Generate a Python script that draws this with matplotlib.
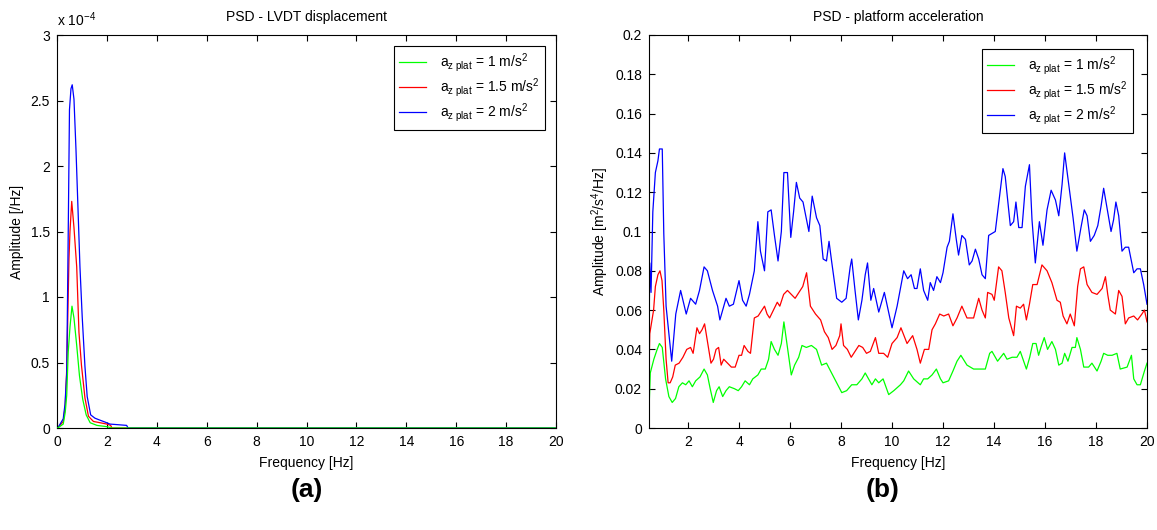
import numpy as np
import matplotlib
matplotlib.use('Agg')
import matplotlib.pyplot as plt
from matplotlib.ticker import FuncFormatter, MultipleLocator

plt.rcParams['font.family'] = ['Liberation Sans', 'DejaVu Sans']
plt.rcParams['mathtext.fontset'] = 'custom'
plt.rcParams['mathtext.rm'] = 'Liberation Sans'
plt.rcParams['mathtext.it'] = 'Liberation Sans:italic'
plt.rcParams['mathtext.default'] = 'regular'

# --- (a) PSD of LVDT displacement, values in units of 1e-4 /Hz ---
f_a_blue = [0.0, 0.03, 0.25, 0.32, 0.39, 0.45, 0.50, 0.56, 0.61, 0.68, 0.76, 0.83, 0.92,
            1.01, 1.12, 1.21, 1.35, 1.52, 1.72, 1.93, 2.12, 2.79, 2.85, 20.0]
v_a_blue = [0.0, 0.0, 0.07, 0.18, 0.42, 1.49, 2.43, 2.59, 2.62, 2.51, 2.13, 1.74, 1.23,
            0.85, 0.47, 0.24, 0.10, 0.075, 0.06, 0.045, 0.03, 0.02, 0.0, 0.0]
f_a_red = [0.0, 0.03, 0.25, 0.33, 0.39, 0.48, 0.52, 0.59, 0.68, 0.79, 0.88, 0.98,
           1.12, 1.26, 1.46, 2.0, 2.15, 2.2, 20.0]
v_a_red = [0.0, 0.0, 0.05, 0.17, 0.45, 1.29, 1.50, 1.73, 1.53, 1.23, 0.73, 0.48,
           0.23, 0.09, 0.05, 0.03, 0.02, 0.0, 0.0]
f_a_green = [0.0, 0.03, 0.25, 0.33, 0.39, 0.45, 0.52, 0.60, 0.68, 0.79, 0.90, 1.03,
             1.17, 1.33, 1.60, 2.0, 2.2, 20.0]
v_a_green = [0.0, 0.0, 0.03, 0.12, 0.25, 0.58, 0.77, 0.93, 0.84, 0.63, 0.40, 0.22,
             0.10, 0.04, 0.02, 0.01, 0.0, 0.0]

# --- (b) PSD of platform acceleration [m^2/s^4/Hz] ---
f_b_blue = [0.47, 0.50, 0.55, 0.62, 0.72, 0.82, 0.88, 0.99, 1.05, 1.14, 1.25, 1.36, 1.52, 1.71,
            1.93, 2.10, 2.30, 2.45, 2.63, 2.76, 2.96, 3.16, 3.25, 3.49, 3.62, 3.78, 4.00,
            4.14, 4.28, 4.41, 4.60, 4.74, 4.84, 5.00, 5.13, 5.26, 5.39, 5.53, 5.66, 5.76,
            5.90, 6.03, 6.14, 6.25, 6.38, 6.51, 6.74, 6.87, 7.04, 7.17, 7.30, 7.43, 7.53,
            7.63, 7.83, 8.03, 8.20, 8.36, 8.42, 8.55, 8.68, 8.82, 8.95, 9.04, 9.17, 9.28,
            9.48, 9.70, 10.00, 10.20, 10.46, 10.61, 10.75, 10.88, 10.98, 11.11, 11.24,
            11.40, 11.50, 11.63, 11.76, 11.90, 12.00, 12.16, 12.25, 12.39, 12.52, 12.61,
            12.74, 12.88, 13.03, 13.14, 13.27, 13.40, 13.53, 13.66, 13.79, 13.92, 14.05,
            14.18, 14.35, 14.44, 14.64, 14.77, 14.86, 14.97, 15.10, 15.23, 15.39, 15.49,
            15.62, 15.78, 15.92, 16.08, 16.24, 16.41, 16.54, 16.67, 16.77, 16.93, 17.10,
            17.25, 17.41, 17.54, 17.65, 17.78, 17.93, 18.07, 18.20, 18.30, 18.43, 18.59,
            18.69, 18.78, 18.89, 19.02, 19.15, 19.28, 19.48, 19.61, 19.74, 19.87, 20.0]
v_b_blue = [0.045, 0.084, 0.069, 0.110, 0.130, 0.136, 0.142, 0.142, 0.099, 0.062, 0.048,
            0.034, 0.058, 0.070, 0.058, 0.066, 0.063, 0.070, 0.082, 0.080, 0.070, 0.062,
            0.055, 0.066, 0.062, 0.063, 0.075, 0.065, 0.062, 0.068, 0.080, 0.105, 0.090,
            0.080, 0.110, 0.111, 0.098, 0.085, 0.100, 0.130, 0.130, 0.097, 0.110, 0.125,
            0.117, 0.115, 0.100, 0.118, 0.107, 0.103, 0.086, 0.085, 0.095, 0.085, 0.066,
            0.064, 0.066, 0.082, 0.086, 0.070, 0.055, 0.065, 0.078, 0.084, 0.065, 0.071,
            0.059, 0.069, 0.051, 0.062, 0.080, 0.076, 0.078, 0.071, 0.071, 0.081, 0.070,
            0.065, 0.074, 0.070, 0.077, 0.074, 0.079, 0.092, 0.095, 0.109, 0.096, 0.088,
            0.098, 0.096, 0.083, 0.085, 0.091, 0.086, 0.078, 0.076, 0.098, 0.099, 0.100,
            0.114, 0.132, 0.128, 0.103, 0.105, 0.115, 0.102, 0.102, 0.123, 0.134, 0.106,
            0.084, 0.105, 0.093, 0.111, 0.121, 0.116, 0.108, 0.124, 0.140, 0.124, 0.107,
            0.090, 0.102, 0.111, 0.108, 0.095, 0.098, 0.103, 0.113, 0.122, 0.112, 0.100,
            0.106, 0.115, 0.108, 0.090, 0.092, 0.092, 0.079, 0.081, 0.081, 0.073, 0.063]

f_b_red = [0.47, 0.50, 0.55, 0.65, 0.72, 0.82, 0.90, 0.98, 1.05, 1.14, 1.22, 1.30, 1.40, 1.50,
           1.65, 1.80, 1.95, 2.10, 2.20, 2.35, 2.45, 2.55, 2.65, 2.75, 2.90, 3.00, 3.10,
           3.20, 3.30, 3.40, 3.55, 3.70, 3.85, 4.00, 4.10, 4.20, 4.35, 4.45, 4.60, 4.75,
           4.90, 5.00, 5.10, 5.20, 5.35, 5.50, 5.60, 5.75, 5.90, 6.05, 6.20, 6.30, 6.50,
           6.65, 6.80, 7.00, 7.20, 7.35, 7.50, 7.65, 7.80, 7.95, 8.00, 8.10, 8.25, 8.40,
           8.55, 8.70, 8.85, 9.00, 9.15, 9.35, 9.48, 9.67, 9.83, 10.00, 10.20, 10.35,
           10.59, 10.81, 10.98, 11.11, 11.27, 11.44, 11.57, 11.70, 11.87, 12.03, 12.22,
           12.39, 12.55, 12.74, 12.94, 13.20, 13.40, 13.53, 13.66, 13.75, 13.92, 14.01,
           14.18, 14.31, 14.44, 14.58, 14.77, 14.88, 15.03, 15.16, 15.27, 15.39, 15.52,
           15.69, 15.88, 16.08, 16.27, 16.47, 16.60, 16.71, 16.86, 16.99, 17.15, 17.28,
           17.39, 17.52, 17.65, 17.84, 18.04, 18.24, 18.37, 18.46, 18.56, 18.76, 18.89,
           19.02, 19.15, 19.28, 19.48, 19.63, 19.80, 19.90, 20.0]
v_b_red = [0.028, 0.048, 0.052, 0.060, 0.072, 0.078, 0.080, 0.075, 0.060, 0.035, 0.023,
           0.023, 0.026, 0.032, 0.033, 0.036, 0.040, 0.041, 0.038, 0.051, 0.048, 0.050,
           0.053, 0.045, 0.033, 0.035, 0.040, 0.041, 0.032, 0.035, 0.033, 0.031, 0.031,
           0.037, 0.037, 0.042, 0.039, 0.038, 0.056, 0.057, 0.060, 0.062, 0.058, 0.056,
           0.060, 0.064, 0.062, 0.068, 0.070, 0.068, 0.066, 0.068, 0.072, 0.079, 0.062,
           0.058, 0.055, 0.049, 0.046, 0.040, 0.042, 0.047, 0.053, 0.042, 0.040, 0.036,
           0.039, 0.042, 0.041, 0.038, 0.039, 0.046, 0.038, 0.038, 0.036, 0.043, 0.046,
           0.051, 0.043, 0.047, 0.040, 0.033, 0.040, 0.040, 0.050, 0.053, 0.058, 0.057,
           0.058, 0.052, 0.056, 0.062, 0.056, 0.056, 0.066, 0.060, 0.056, 0.069, 0.068,
           0.065, 0.082, 0.080, 0.069, 0.056, 0.047, 0.062, 0.061, 0.063, 0.055, 0.063,
           0.073, 0.073, 0.083, 0.080, 0.074, 0.065, 0.064, 0.057, 0.053, 0.058, 0.052,
           0.072, 0.081, 0.082, 0.073, 0.069, 0.068, 0.071, 0.077, 0.068, 0.060, 0.058,
           0.070, 0.067, 0.053, 0.056, 0.057, 0.055, 0.058, 0.060, 0.054]

f_b_green = [0.47, 0.50, 0.52, 0.66, 0.79, 0.88, 0.99, 1.12, 1.25, 1.38, 1.51, 1.64, 1.78,
             1.91, 2.04, 2.17, 2.30, 2.47, 2.63, 2.76, 2.87, 2.99, 3.12, 3.22, 3.36, 3.49,
             3.62, 3.82, 3.97, 4.10, 4.24, 4.41, 4.54, 4.74, 4.87, 5.03, 5.16, 5.26, 5.39,
             5.53, 5.66, 5.76, 5.90, 6.05, 6.18, 6.34, 6.47, 6.64, 6.84, 7.04, 7.24, 7.43,
             7.63, 7.83, 8.03, 8.22, 8.42, 8.62, 8.82, 8.95, 9.08, 9.21, 9.35, 9.48, 9.65,
             9.87, 10.07, 10.33, 10.46, 10.65, 10.85, 11.11, 11.24, 11.40, 11.57, 11.74,
             11.90, 12.00, 12.22, 12.39, 12.55, 12.70, 12.94, 13.20, 13.46, 13.66, 13.83,
             13.92, 14.14, 14.38, 14.51, 14.71, 14.90, 15.03, 15.27, 15.40, 15.52, 15.65,
             15.75, 15.84, 15.97, 16.10, 16.27, 16.41, 16.54, 16.67, 16.77, 16.90, 17.06,
             17.19, 17.25, 17.39, 17.52, 17.71, 17.84, 18.04, 18.20, 18.30, 18.46, 18.63,
             18.82, 18.95, 19.22, 19.39, 19.48, 19.61, 19.74, 19.90, 20.0]
v_b_green = [0.009, 0.021, 0.028, 0.035, 0.040, 0.043, 0.041, 0.025, 0.016, 0.013, 0.015,
             0.021, 0.023, 0.022, 0.024, 0.021, 0.024, 0.026, 0.030, 0.027, 0.020, 0.013,
             0.019, 0.021, 0.016, 0.019, 0.021, 0.020, 0.019, 0.021, 0.024, 0.022, 0.025,
             0.027, 0.030, 0.030, 0.035, 0.044, 0.040, 0.037, 0.043, 0.054, 0.041, 0.027,
             0.032, 0.036, 0.042, 0.041, 0.042, 0.040, 0.032, 0.033, 0.028, 0.023, 0.018,
             0.019, 0.022, 0.022, 0.025, 0.028, 0.025, 0.022, 0.025, 0.023, 0.025, 0.017,
             0.019, 0.022, 0.024, 0.029, 0.025, 0.022, 0.025, 0.025, 0.027, 0.030, 0.025,
             0.023, 0.024, 0.029, 0.034, 0.037, 0.032, 0.030, 0.030, 0.030, 0.038, 0.039,
             0.034, 0.038, 0.035, 0.036, 0.036, 0.039, 0.030, 0.036, 0.043, 0.043, 0.037,
             0.041, 0.046, 0.040, 0.044, 0.040, 0.032, 0.033, 0.038, 0.034, 0.041, 0.041,
             0.046, 0.040, 0.031, 0.031, 0.033, 0.029, 0.034, 0.038, 0.037, 0.037, 0.038,
             0.030, 0.031, 0.037, 0.025, 0.022, 0.022, 0.029, 0.033]

labels = [r'a$_{z\ plat}$ = 1 m/s$^2$',
          r'a$_{z\ plat}$ = 1.5 m/s$^2$',
          r'a$_{z\ plat}$ = 2 m/s$^2$']
colors = ['#00ff00', '#ff0000', '#0000ff']

FS = 10

fig = plt.figure(figsize=(11.57, 5.30), dpi=100, facecolor='white')
ax_a = fig.add_axes([57 / 1157, 102 / 530, 499 / 1157, 393 / 530])
ax_b = fig.add_axes([649 / 1157, 102 / 530, 498 / 1157, 393 / 530])


def estilo(ax):
    ax.tick_params(direction='in', top=True, right=True, length=4, width=0.8,
                   labelsize=FS, pad=5, colors='black')
    for s in ax.spines.values():
        s.set_linewidth(0.8)
        s.set_color('black')
    ax.set_xlabel('Frequency [Hz]', fontsize=FS, labelpad=5)


def leyenda(ax, hands, anchor):
    lg = ax.legend(handles=hands, loc='upper right', fontsize=FS, frameon=True,
                   fancybox=False, edgecolor='black', framealpha=1, handlelength=1.9,
                   borderpad=0.4, labelspacing=0.15, handletextpad=1.0,
                   borderaxespad=0, bbox_to_anchor=anchor)
    lg.get_frame().set_linewidth(0.8)
    return lg


# panel (a)
series_a = [(f_a_green, v_a_green), (f_a_red, v_a_red), (f_a_blue, v_a_blue)]
hands = []
for (f, v), c, lab in zip(series_a, colors, labels):
    h, = ax_a.plot(f, v, color=c, lw=0.9, label=lab)
    hands.append(h)
# green drawn over the others along the zero line
hands[0].set_zorder(3)
ax_a.set_xlim(0, 20)
ax_a.set_ylim(0, 3)
ax_a.xaxis.set_major_locator(MultipleLocator(2))
ax_a.yaxis.set_major_locator(MultipleLocator(0.5))
ax_a.yaxis.set_major_formatter(FuncFormatter(lambda v, p: f'{v:g}'))
estilo(ax_a)
ax_a.set_ylabel('Amplitude [/Hz]', fontsize=FS, labelpad=5)
ax_a.set_title('PSD - LVDT displacement', fontsize=FS, pad=10)
ax_a.text(0.0, 1.015, r'x 10$^{-4}$', transform=ax_a.transAxes, fontsize=FS,
          ha='left', va='bottom')
leyenda(ax_a, hands, ((545 - 57) / 499, (428 - 46) / 393))

# panel (b)
series_b = [(f_b_green, v_b_green), (f_b_red, v_b_red), (f_b_blue, v_b_blue)]
hands_b = []
for (f, v), c, lab in zip(series_b, colors, labels):
    h, = ax_b.plot(f, v, color=c, lw=0.9, label=lab)
    hands_b.append(h)
ax_b.set_xlim(0.47, 20)
ax_b.set_ylim(0, 0.2)
ax_b.set_xticks(np.arange(2, 21, 2))
ax_b.yaxis.set_major_locator(MultipleLocator(0.02))
ax_b.yaxis.set_major_formatter(FuncFormatter(lambda v, p: f'{round(v, 2):g}'))
estilo(ax_b)
ax_b.set_ylabel(r'Amplitude [m$^2$/s$^4$/Hz]', fontsize=FS, labelpad=3)
ax_b.set_title('PSD - platform acceleration', fontsize=FS, pad=10)
leyenda(ax_b, hands_b, ((1133 - 649) / 498, (428 - 49) / 393))

fig.text(307 / 1157, 1 - 490 / 530, '(a)', fontsize=19, fontweight='bold',
         ha='center', va='center')
fig.text(883 / 1157, 1 - 490 / 530, '(b)', fontsize=19, fontweight='bold',
         ha='center', va='center')

fig.savefig('out.png', dpi=100, facecolor='white')
